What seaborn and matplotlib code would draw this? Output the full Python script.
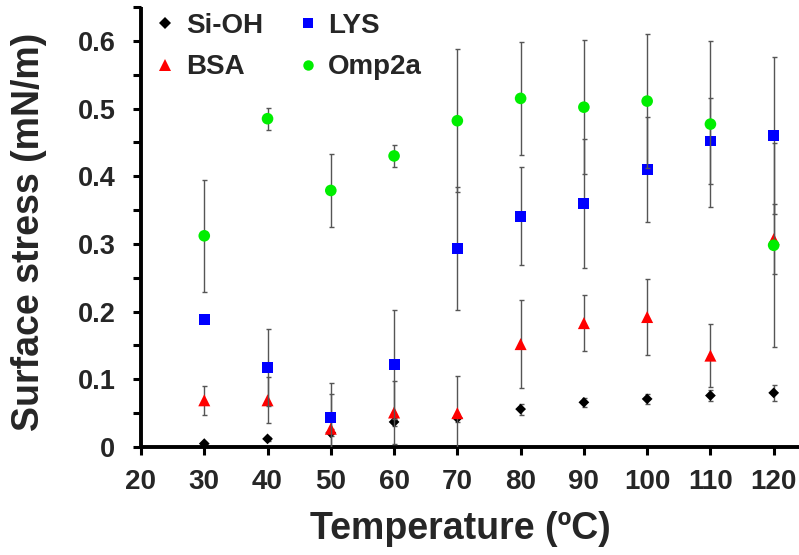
import numpy as np
import pandas as pd
import matplotlib
matplotlib.use("Agg")
import matplotlib.pyplot as plt
from matplotlib.lines import Line2D
from matplotlib.ticker import FixedLocator, FuncFormatter
import seaborn as sns

# Surface stress vs temperature for four surfaces (mean and standard deviation)
temperature = [30, 40, 50, 60, 70, 80, 90, 100, 110, 120]

sioh = [0.005, 0.012, 0.021, 0.037, 0.043, 0.056, 0.066, 0.071, 0.076, 0.080]
sioh_err = [0.002, 0.003, 0.005, 0.006, 0.006, 0.008, 0.007, 0.008, 0.008, 0.012]

bsa = [0.069, 0.069, 0.027, 0.051, 0.050, 0.152, 0.183, 0.192, 0.135, 0.307]
bsa_err = [0.021, 0.034, 0.052, 0.046, 0.055, 0.065, 0.041, 0.056, 0.046, 0.052]

lys = [0.188, 0.117, 0.044, 0.122, 0.293, 0.341, 0.360, 0.410, 0.452, 0.460]
lys_err = [0.002, 0.057, 0.051, 0.081, 0.091, 0.072, 0.095, 0.078, 0.063, 0.116]

omp2a = [0.312, 0.485, 0.379, 0.430, 0.482, 0.515, 0.502, 0.511, 0.477, 0.298]
omp2a_err = [0.083, 0.016, 0.054, 0.016, 0.106, 0.083, 0.099, 0.099, 0.123, 0.151]

series_names = ["Si-OH", "BSA", "LYS", "Omp2a"]
x_ticks = [20, 30, 40, 50, 60, 70, 80, 90, 100, 110, 120]

frames = []
for name, vals, errs in zip(series_names,
                            [sioh, bsa, lys, omp2a],
                            [sioh_err, bsa_err, lys_err, omp2a_err]):
    frames.append(pd.DataFrame({"Temperature": temperature, "Stress": vals,
                                "Err": errs, "Sample": name}))
data = pd.concat(frames, ignore_index=True)

colors = {"Si-OH": "#000000", "BSA": "#ff0000", "LYS": "#0000ff", "Omp2a": "#00ee00"}
markers = {"Si-OH": "D", "BSA": "^", "LYS": "s", "Omp2a": "o"}
msizes = {"Si-OH": 30, "BSA": 75, "LYS": 62, "Omp2a": 70}

sns.set_theme(style="ticks")
plt.rcParams["font.family"] = ["Liberation Sans", "DejaVu Sans"]
plt.rcParams["font.weight"] = "bold"
plt.rcParams["axes.labelweight"] = "bold"

W, H = 799, 555
fig = plt.figure(figsize=(W / 100, H / 100), dpi=100)
ax = fig.add_axes([141 / W, 1 - 447 / H, 658 / W, 440 / H])

for i, name in enumerate(series_names):
    sub = data[data["Sample"] == name]
    ax.errorbar(sub["Temperature"], sub["Stress"], yerr=sub["Err"], fmt="none",
                ecolor="#555555", elinewidth=1.0, capsize=1.8, capthick=1.0,
                zorder=2 + 2 * i)
    sns.scatterplot(data=sub, x="Temperature", y="Stress", ax=ax,
                    marker=markers[name], color=colors[name], s=msizes[name],
                    linewidth=0, edgecolor="none", legend=False, zorder=3 + 2 * i)

ax.set_xlim(20, 124)
ax.set_ylim(0, 0.65)
ax.xaxis.set_major_locator(FixedLocator(x_ticks))
ax.yaxis.set_major_locator(FixedLocator(np.round(np.arange(0, 0.651, 0.05), 2)))


def y_fmt(v, pos):
    if abs(v * 10 - round(v * 10)) < 1e-6 and v < 0.65:
        return "0" if abs(v) < 1e-9 else f"{v:.1f}"
    return ""


ax.yaxis.set_major_formatter(FuncFormatter(y_fmt))

sns.despine(ax=ax)
for side in ("left", "bottom"):
    ax.spines[side].set_linewidth(2.8)
    ax.spines[side].set_color("black")
    ax.spines[side].set_capstyle("butt")

ax.tick_params(axis="x", direction="out", length=6, width=2.2, color="black",
               labelsize=20, pad=10)
ax.tick_params(axis="y", direction="out", length=5.5, width=2.2, color="black",
               labelsize=19.5, pad=13)
for lab in ax.get_xticklabels() + ax.get_yticklabels():
    lab.set_fontweight("bold")

ax.set_xlabel("Temperature (ºC)", fontsize=27, fontweight="bold")
ax.set_ylabel("Surface stress (mN/m)", fontsize=27, fontweight="bold")
ax.xaxis.set_label_coords((460 - 141) / 658, -0.145)
ax.yaxis.set_label_coords(-0.143, 0.49)

handles = [Line2D([], [], linestyle="none", marker=markers[n], color=colors[n],
                  markeredgewidth=0, markersize=ms)
           for n, ms in zip(series_names, [6, 8.5, 7, 7.5])]
ax.legend(handles, series_names, ncol=2, frameon=False, loc="upper left",
          bbox_to_anchor=(154 / W, 1 - 13 / H), bbox_transform=fig.transFigure,
          borderpad=0, borderaxespad=0, handlelength=0.8, handletextpad=0.35,
          columnspacing=1.2, labelspacing=0.55,
          prop={"size": 20, "weight": "bold"})

fig.savefig("out.png", dpi=100)
